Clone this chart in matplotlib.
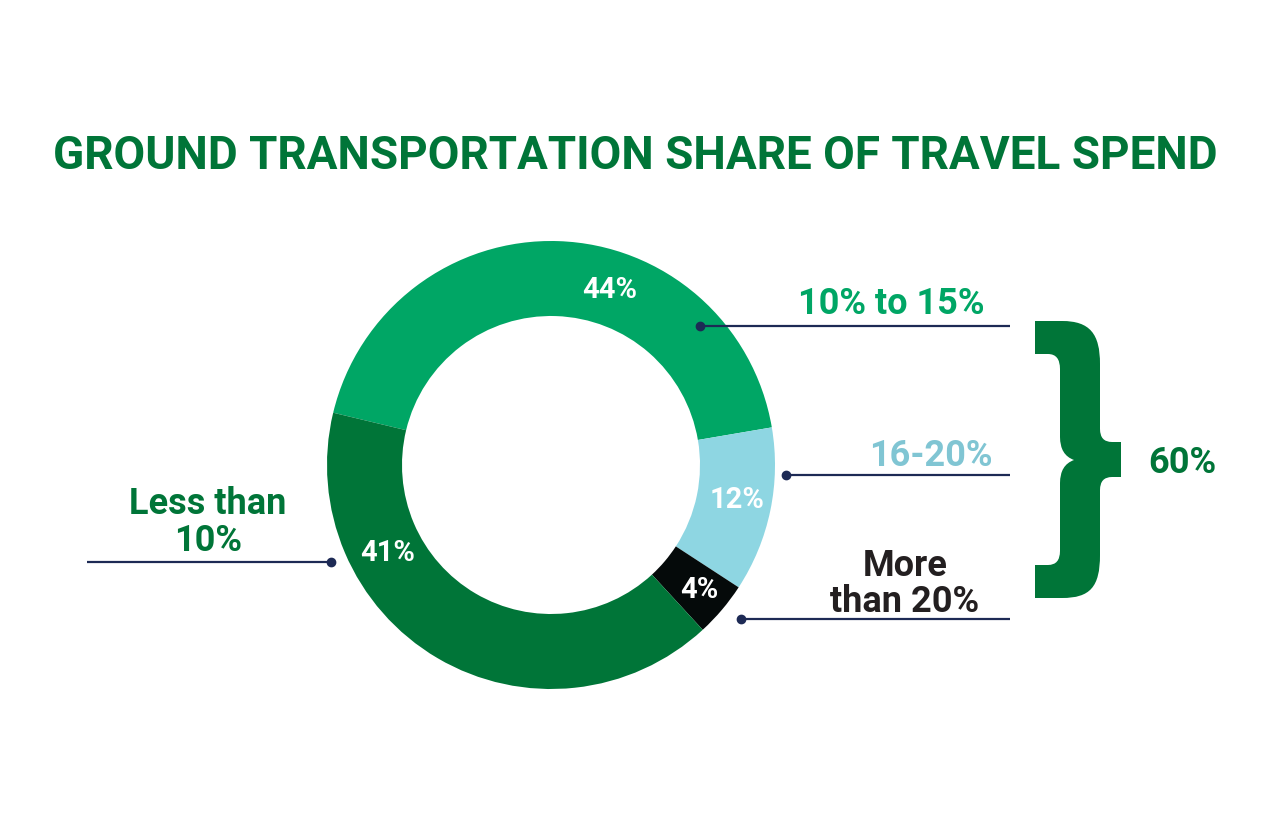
import matplotlib
matplotlib.use("Agg")
from matplotlib import pyplot as plt
from matplotlib.path import Path
import matplotlib.patches as patches
import numpy as np

plt.rcParams['font.family'] = ['Roboto', 'DejaVu Sans']
plt.rcParams['font.weight'] = 'bold'

# DATA
categories = ["10% to 15%", "16-20%", "More\nthan 20%", "Less than\n10%"]
shares = [44, 12, 4, 41]
share_labels = ["44%", "12%", "4%", "41%"]
colors = ["#00a665", "#8ed6e2", "#050a0a", "#007538"]
label_colors = ["#00a665", "#80c5d3", "#231f20", "#007538"]
group_total = "60%"

W, H = 1280, 828
navy = "#1d2a55"
dark_green = "#007538"
lab_fs = 26


def Y(y):
    # pixel row -> data y
    return H - y


fig = plt.figure(figsize=(12.8, 8.28), dpi=100)
ax = fig.add_axes([0, 0, 1, 1])

cx, cy = 551, Y(466)
r_out, r_in = 224, 149

wedges, _ = ax.pie(shares, colors=colors, startangle=166.5, counterclock=False,
                   center=(cx, cy), radius=r_out, frame=True,
                   wedgeprops=dict(width=r_out - r_in, linewidth=0))
ax.set_xlim(0, W)
ax.set_ylim(0, H)
ax.set_aspect("equal")
ax.axis("off")

# percent labels inside the ring (angle in degrees, radius)
label_pos = [(71.5, 186), (-10.4, 189), (-40.0, 193), (208.0, 185)]
for txt, (ang, rr) in zip(share_labels, label_pos):
    a = np.deg2rad(ang)
    ax.text(cx + rr*np.cos(a), cy + rr*np.sin(a), txt, color="white",
            fontsize=21, fontweight="bold", ha="center", va="center")

# callouts
def callout(x0, x1, y, dot_x):
    ax.plot([x0, x1], [Y(y), Y(y)], color=navy, lw=1.6, solid_capstyle="butt")
    ax.plot([dot_x], [Y(y)], "o", color=navy, ms=6)

callout(700, 1010, 327, 700)
callout(786, 1010, 476, 786)
callout(741, 1010, 620, 741)
callout(87, 331, 563, 331)

ax.text(985, Y(304), categories[0], color=label_colors[0], fontsize=lab_fs,
        ha="right", va="center")
ax.text(993, Y(456), categories[1], color=label_colors[1], fontsize=lab_fs,
        ha="right", va="center")
more, than = categories[2].split("\n")
ax.text(905, Y(566), more, color=label_colors[2], fontsize=lab_fs, ha="center", va="center")
ax.text(905, Y(602), than, color=label_colors[2], fontsize=lab_fs, ha="center", va="center")
less, ten = categories[3].split("\n")
ax.text(208, Y(504), less, color=label_colors[3], fontsize=lab_fs, ha="center", va="center")
ax.text(208, Y(541), ten, color=label_colors[3], fontsize=lab_fs, ha="center", va="center")

# curly brace
M, L, C3, C4, CL = Path.MOVETO, Path.LINETO, Path.CURVE3, Path.CURVE4, Path.CLOSEPOLY
brace = [
    (M, (1035, 322)), (L, (1062, 322)),
    (C4, (1090, 322)), (C4, (1100, 335)), (C4, (1100, 365)),
    (L, (1100, 430)),
    (C3, (1100, 443)), (C3, (1112, 443)),
    (L, (1121, 443)), (L, (1121, 478)), (L, (1112, 478)),
    (C3, (1100, 478)), (C3, (1100, 491)),
    (L, (1100, 556)),
    (C4, (1100, 588)), (C4, (1090, 599)), (C4, (1062, 599)),
    (L, (1035, 599)), (L, (1035, 566)), (L, (1048, 566)),
    (C3, (1060, 566)), (C3, (1060, 552)),
    (L, (1060, 484)),
    (C3, (1060, 466)), (C3, (1074, 461)),
    (C3, (1060, 456)), (C3, (1060, 438)),
    (L, (1060, 370)),
    (C3, (1060, 355)), (C3, (1048, 355)),
    (L, (1035, 355)), (CL, (1035, 322)),
]
codes = [c for c, _ in brace]
verts = [(x, Y(y)) for _, (x, y) in brace]
ax.add_patch(patches.PathPatch(Path(verts, codes), facecolor=dark_green, lw=0))

ax.text(1182, Y(463), group_total, color=dark_green, fontsize=lab_fs,
        ha="center", va="center")

ax.text(635, Y(156), "GROUND TRANSPORTATION SHARE OF TRAVEL SPEND",
        color=dark_green, fontsize=33, ha="center", va="center")

fig.savefig("out.png", dpi=100, facecolor="white")
